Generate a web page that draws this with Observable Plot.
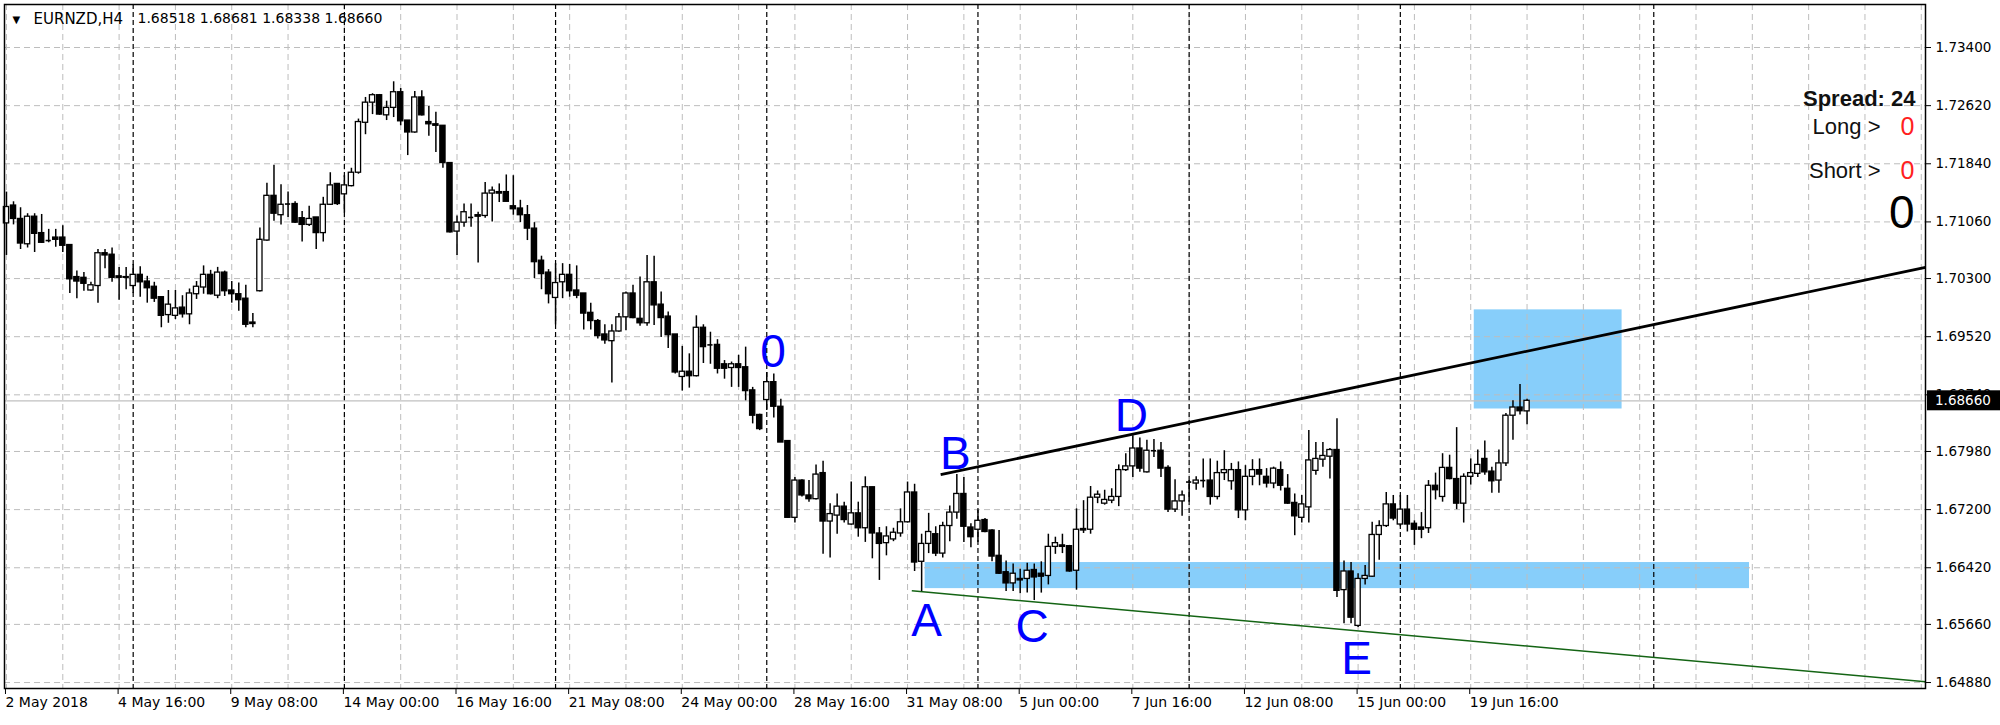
<!DOCTYPE html>
<html><head><meta charset="utf-8">
<script src="https://cdn.jsdelivr.net/npm/d3@7"></script>
<script src="https://cdn.jsdelivr.net/npm/@observablehq/plot@0.6"></script>
<style>
html,body{margin:0;padding:0;background:#fff;}
svg{display:block;}
</style></head><body><div id="chart"></div>
<script>
const symbol = "EURNZD,H4";

const open = [1.7104,1.7128,1.7110,1.7076,1.7113,1.7091,1.7081,1.7085,1.7085,1.7075,
1.7032,1.7031,1.7014,1.7020,1.7064,1.7062,1.7033,1.7032,1.7020,1.7035,
1.7026,1.7019,1.7005,1.6981,1.6980,1.6991,1.6982,1.7009,1.7018,1.7035,
1.7007,1.7038,1.7014,1.7009,1.7003,1.6971,1.7013,1.7081,1.7141,1.7115,
1.7130,1.7130,1.7111,1.7102,1.7112,1.7091,1.7129,1.7157,1.7143,1.7154,
1.7172,1.7239,1.7266,1.7276,1.7249,1.7259,1.7280,1.7242,1.7226,1.7273,
1.7240,1.7237,1.7235,1.7185,1.7093,1.7105,1.7112,1.7115,1.7114,1.7144,
1.7146,1.7146,1.7127,1.7124,1.7115,1.7097,1.7054,1.7038,1.7004,1.7025,
1.7035,1.7014,1.7010,1.6984,1.6973,1.6955,1.6946,1.6959,1.6978,1.7010,
1.6976,1.6970,1.7025,1.6995,1.6979,1.6955,1.6898,1.6905,1.6899,1.6964,
1.6941,1.6941,1.6915,1.6910,1.6915,1.6911,1.6880,1.6847,1.6867,1.6891,
1.6858,1.6812,1.6709,1.6759,1.6739,1.6734,1.6769,1.6704,1.6712,1.6724,
1.6700,1.6715,1.6695,1.6750,1.6688,1.6675,1.6680,1.6688,1.6703,1.6743,
1.6650,1.6674,1.6687,1.6661,1.6698,1.6716,1.6741,1.6696,1.6693,1.6706,
1.6692,1.6658,1.6636,1.6621,1.6627,1.6627,1.6639,1.6634,1.6631,1.6670,
1.6672,1.6671,1.6638,1.6694,1.6693,1.6736,1.6728,1.6732,1.6737,1.6773,
1.6778,1.6802,1.6770,1.6799,1.6799,1.6776,1.6720,1.6731,1.6757,1.6755,
1.6759,1.6759,1.6737,1.6769,1.6758,1.6773,1.6719,1.6764,1.6773,1.6764,
1.6755,1.6773,1.6748,1.6729,1.6709,1.6723,1.6772,1.6787,1.6791,1.6800,
1.6612,1.6637,1.6564,1.6627,1.6630,1.6686,1.6698,1.6727,1.6700,1.6720,
1.6701,1.6696,1.6695,1.6752,1.6737,1.6776,1.6761,1.6728,1.6764,1.6768,
1.6788,1.6771,1.6759,1.6782,1.6846,1.6857,1.68518];

const high = [1.7146,1.7133,1.7125,1.7117,1.7117,1.7116,1.7096,1.7096,1.7101,1.7075,
1.7040,1.7038,1.7025,1.7069,1.7069,1.7071,1.7045,1.7045,1.7049,1.7046,
1.7033,1.7025,1.7005,1.7014,1.7014,1.7007,1.7016,1.7026,1.7047,1.7041,
1.7045,1.7040,1.7026,1.7024,1.7021,1.6983,1.7098,1.7158,1.7182,1.7156,
1.7146,1.7133,1.7120,1.7127,1.7112,1.7139,1.7172,1.7157,1.7168,1.7178,
1.7244,1.7273,1.7278,1.7277,1.7268,1.7294,1.7285,1.7242,1.7281,1.7282,
1.7261,1.7253,1.7235,1.7185,1.7114,1.7130,1.7130,1.7119,1.7159,1.7153,
1.7157,1.7169,1.7168,1.7135,1.7128,1.7105,1.7060,1.7042,1.7050,1.7050,
1.7049,1.7047,1.7010,1.6997,1.6975,1.6968,1.6968,1.6983,1.7012,1.7021,
1.7032,1.7061,1.7060,1.7012,1.6985,1.6955,1.6939,1.6929,1.6980,1.6968,
1.6958,1.6948,1.6920,1.6918,1.6927,1.6938,1.6884,1.6848,1.6904,1.6902,
1.6868,1.6812,1.6763,1.6760,1.6759,1.6780,1.6785,1.6728,1.6741,1.6730,
1.6757,1.6730,1.6764,1.6750,1.6696,1.6697,1.6695,1.6721,1.6757,1.6754,
1.6687,1.6715,1.6697,1.6703,1.6725,1.6767,1.6763,1.6701,1.6719,1.6708,
1.6693,1.6692,1.6651,1.6647,1.6640,1.6648,1.6647,1.6650,1.6687,1.6683,
1.6687,1.6672,1.6721,1.6732,1.6751,1.6745,1.6746,1.6748,1.6780,1.6795,
1.6819,1.6816,1.6813,1.6814,1.6810,1.6779,1.6760,1.6745,1.6759,1.6764,
1.6788,1.6788,1.6785,1.6799,1.6782,1.6784,1.6779,1.6787,1.6788,1.6775,
1.6777,1.6784,1.6767,1.6741,1.6739,1.6826,1.6810,1.6810,1.6802,1.6842,
1.6651,1.6649,1.6634,1.6645,1.6703,1.6705,1.6743,1.6739,1.6739,1.6739,
1.6705,1.6716,1.6759,1.6769,1.6795,1.6793,1.6830,1.6768,1.6788,1.6800,
1.6812,1.6777,1.6800,1.6849,1.6866,1.6888,1.68681];

const low = [1.7061,1.7102,1.7069,1.7071,1.7065,1.7077,1.7078,1.7072,1.7065,1.7010,
1.7003,1.7013,1.7013,1.6997,1.7043,1.7025,1.7001,1.7015,1.7010,1.7005,
1.6997,1.6998,1.6964,1.6970,1.6975,1.6977,1.6968,1.7002,1.7009,1.7008,
1.7003,1.7006,1.6997,1.6986,1.6964,1.6964,1.7012,1.7080,1.7107,1.7102,
1.7112,1.7104,1.7079,1.7100,1.7069,1.7079,1.7128,1.7128,1.7118,1.7153,
1.7170,1.7223,1.7250,1.7249,1.7242,1.7246,1.7235,1.7195,1.7225,1.7248,
1.7221,1.7199,1.7178,1.7091,1.7061,1.7099,1.7099,1.7051,1.7111,1.7106,
1.7132,1.7133,1.7115,1.7105,1.7081,1.7030,1.7015,1.6996,1.6968,1.7003,
1.7005,1.7003,1.6961,1.6961,1.6949,1.6942,1.6890,1.6958,1.6960,1.6976,
1.6966,1.6966,1.6967,1.6951,1.6936,1.6902,1.6879,1.6883,1.6898,1.6916,
1.6915,1.6902,1.6895,1.6884,1.6884,1.6866,1.6835,1.6826,1.6853,1.6843,
1.6810,1.6708,1.6702,1.6737,1.6730,1.6733,1.6660,1.6655,1.6687,1.6702,
1.6699,1.6683,1.6676,1.6654,1.6625,1.6658,1.6677,1.6683,1.6702,1.6637,
1.6610,1.6661,1.6657,1.6655,1.6677,1.6707,1.6676,1.6669,1.6676,1.6689,
1.6650,1.6633,1.6610,1.6610,1.6607,1.6608,1.6598,1.6608,1.6619,1.6660,
1.6661,1.6636,1.6612,1.6688,1.6687,1.6728,1.6726,1.6728,1.6724,1.6771,
1.6763,1.6770,1.6769,1.6790,1.6763,1.6716,1.6716,1.6711,1.6730,1.6746,
1.6749,1.6726,1.6733,1.6759,1.6746,1.6708,1.6705,1.6752,1.6752,1.6749,
1.6748,1.6745,1.6727,1.6685,1.6702,1.6702,1.6766,1.6777,1.6761,1.6602,
1.6567,1.6567,1.6562,1.6619,1.6629,1.6652,1.6696,1.6705,1.6697,1.6690,
1.6672,1.6681,1.6688,1.6733,1.6730,1.6760,1.6720,1.6702,1.6753,1.6763,
1.6766,1.6742,1.6742,1.6778,1.6813,1.6847,1.68338];

const close = [1.7126,1.7110,1.7077,1.7113,1.7090,1.7078,1.7081,1.7082,1.7074,1.7029,
1.7026,1.7023,1.7021,1.7064,1.7061,1.7031,1.7031,1.7031,1.7035,1.7025,
1.7017,1.7003,1.6980,1.6995,1.6990,1.6982,1.7010,1.7019,1.7035,1.7009,
1.7038,1.7013,1.7009,1.7001,1.6968,1.6969,1.7082,1.7141,1.7117,1.7129,
1.7130,1.7105,1.7102,1.7110,1.7091,1.7129,1.7155,1.7130,1.7155,1.7172,
1.7240,1.7266,1.7276,1.7250,1.7259,1.7280,1.7241,1.7226,1.7273,1.7249,
1.7237,1.7235,1.7185,1.7092,1.7105,1.7119,1.7112,1.7113,1.7144,1.7148,
1.7144,1.7133,1.7123,1.7115,1.7097,1.7052,1.7036,1.7009,1.7024,1.7035,
1.7013,1.7007,1.6983,1.6973,1.6953,1.6947,1.6959,1.6978,1.7010,1.6977,
1.6970,1.7025,1.6994,1.6977,1.6954,1.6904,1.6905,1.6899,1.6964,1.6938,
1.6941,1.6909,1.6909,1.6915,1.6910,1.6879,1.6846,1.6828,1.6891,1.6858,
1.6810,1.6709,1.6759,1.6739,1.6734,1.6767,1.6704,1.6714,1.6724,1.6706,
1.6715,1.6695,1.6750,1.6688,1.6674,1.6684,1.6689,1.6703,1.6743,1.6649,
1.6674,1.6690,1.6661,1.6698,1.6716,1.6741,1.6697,1.6683,1.6705,1.6690,
1.6657,1.6634,1.6621,1.6634,1.6625,1.6638,1.6629,1.6630,1.6670,1.6675,
1.6670,1.6637,1.6693,1.6692,1.6736,1.6740,1.6733,1.6737,1.6773,1.6778,
1.6802,1.6775,1.6799,1.6799,1.6775,1.6720,1.6731,1.6739,1.6757,1.6759,
1.6759,1.6737,1.6769,1.6773,1.6773,1.6719,1.6764,1.6773,1.6767,1.6755,
1.6775,1.6752,1.6728,1.6711,1.6727,1.6786,1.6788,1.6792,1.6800,1.6611,
1.6637,1.6575,1.6627,1.6631,1.6686,1.6698,1.6727,1.6708,1.6720,1.6700,
1.6693,1.6693,1.6752,1.6746,1.6776,1.6761,1.6728,1.6764,1.6769,1.6780,
1.6770,1.6758,1.6782,1.6846,1.6857,1.6852,1.68660];

// time axis: bar index of each label, and its text
const timeTickBars = [0,16,32,48,64,80,96,112,128,144,160,176,192,208];
const timeTickLabels = ["2 May 2018","4 May 16:00","9 May 08:00","14 May 00:00","16 May 16:00","21 May 08:00","24 May 00:00","28 May 16:00","31 May 08:00","5 Jun 00:00","7 Jun 16:00","12 Jun 08:00","15 Jun 00:00","19 Jun 16:00"];
const priceTicks = [1.73400,1.72620,1.71840,1.71060,1.70300,1.69520,1.68740,1.67980,1.67200,1.66420,1.65660,1.64880];
const weekSeparatorBars = [18,48,78,108,138,168,198,234];
const gridBars = [0,8,16,24,32,40,48,56,64,72,80,88,96,104,112,120,128,136,144,152,160,168,176,184,192,200,208,216,224,232,240,248,256,264,272];

const lastPrice = 1.68660;
const spread = 24, longCount = 0, shortCount = 0, totalCount = 0;

// wave labels
const waveNames = ["0","A","B","C","D","E"];
const waveBars = [108.9,130.7,134.8,145.7,159.8,191.8];
const wavePrices = [1.6911,1.6551,1.6774,1.6543,1.6826,1.6500];

// blue zones
const zoneStartBar = [130.5,208.5];
const zoneEndBar = [247.6,229.5];
const zoneTop = [1.6649,1.6988];
const zoneBottom = [1.6614,1.6855];

// trend lines
const trendStartBar = [132.7,128.6];
const trendStartPrice = [1.6767,1.6611];
const trendEndBar = [272.6,272.6];
const trendEndPrice = [1.7045,1.6489];
const trendColors = ["#000000","#146414"];
const trendWidths = [2.8,1.5];

// ---------- build ----------
const bars = open.map((o, i) => ({i, o, h: high[i], l: low[i], c: close[i]}));
const dojis = bars.filter(d => d.o === d.c);
const waves = waveNames.map((t, k) => ({t, b: waveBars[k], p: wavePrices[k]}));
const zones = zoneStartBar.map((b, k) => ({b1: b, b2: zoneEndBar[k], y1: zoneTop[k], y2: zoneBottom[k]}));
const trends = trendStartBar.map((b, k) => ({b1: b, p1: trendStartPrice[k], b2: trendEndBar[k], p2: trendEndPrice[k], col: trendColors[k], w: trendWidths[k]}));
const labelMap = new Map(timeTickBars.map((b, k) => [b, timeTickLabels[k]]));
const fmt5 = d3.format(".5f");
const last = bars[bars.length - 1];
const headerValues = [last.o, last.h, last.l, last.c].map(fmt5).join(" ");

const chart = Plot.plot({
  width: 2000, height: 725,
  marginLeft: 4, marginRight: 75, marginTop: 4, marginBottom: 37,
  x: {domain: [-0.28, 272.6], axis: null},
  y: {domain: [1.64800, 1.73977], axis: null},
  color: {type: "identity"},
  style: {background: "white", fontFamily: "DejaVu Sans", fontSize: "13.5px", color: "black"},
  marks: [
    Plot.rect(zones, {x1: "b1", x2: "b2", y1: "y1", y2: "y2", fill: "#87cefa"}),
    Plot.ruleY(priceTicks, {stroke: "#bdbdbd", strokeDasharray: "6,4"}),
    Plot.ruleX(gridBars, {stroke: "#bdbdbd", strokeDasharray: "6,4"}),
    Plot.ruleX(weekSeparatorBars, {stroke: "black", strokeDasharray: "5,3", strokeWidth: 1.2}),
    Plot.ruleY([lastPrice], {stroke: "#c0c0c0", strokeWidth: 1.2}),
    ...trends.map(t => Plot.link([t], {x1: "b1", y1: "p1", x2: "b2", y2: "p2", stroke: t.col, strokeWidth: t.w})),
    Plot.ruleX(bars, {x: "i", y1: "l", y2: "h", stroke: "black", strokeWidth: 1.5}),
    Plot.rect(bars, {x1: d => d.i - 0.37, x2: d => d.i + 0.37, y1: "o", y2: "c",
      fill: d => d.c >= d.o ? "white" : "black", stroke: "black", strokeWidth: 1.3}),
    Plot.ruleY(dojis, {y: "c", x1: d => d.i - 0.37, x2: d => d.i + 0.37, stroke: "black", strokeWidth: 1.6}),
    Plot.text(waves, {x: "b", y: "p", text: "t", fill: "#0000ff", fontSize: 46,
      fontFamily: "Liberation Sans", textAnchor: "middle", lineAnchor: "bottom"}),
    // header
    Plot.text(["\u25BC"], {frameAnchor: "top-left", dx: 8, dy: 11, fontSize: 10, textAnchor: "start", lineAnchor: "top", fill: "black"}),
    Plot.text([symbol], {frameAnchor: "top-left", dx: 29, dy: 9, fontSize: 15, textAnchor: "start", lineAnchor: "top", fill: "black"}),
    Plot.text([headerValues], {frameAnchor: "top-left", dx: 133, dy: 9, fontSize: 14, textAnchor: "start", lineAnchor: "top", fill: "black"}),
    // info panel
    Plot.text([`Spread: ${spread}`], {frameAnchor: "top-right", dx: -10, dy: 101, fontSize: 22, fontWeight: "bold",
      fontFamily: "Liberation Sans", textAnchor: "end", lineAnchor: "bottom", fill: "#111"}),
    Plot.text(["Long >"], {frameAnchor: "top-right", dx: -45, dy: 129, fontSize: 22,
      fontFamily: "Liberation Sans", textAnchor: "end", lineAnchor: "bottom", fill: "#111"}),
    Plot.text([String(longCount)], {frameAnchor: "top-right", dx: -11, dy: 130, fontSize: 25,
      fontFamily: "Liberation Sans", textAnchor: "end", lineAnchor: "bottom", fill: "#ff2020"}),
    Plot.text(["Short >"], {frameAnchor: "top-right", dx: -45, dy: 173, fontSize: 22,
      fontFamily: "Liberation Sans", textAnchor: "end", lineAnchor: "bottom", fill: "#111"}),
    Plot.text([String(shortCount)], {frameAnchor: "top-right", dx: -11, dy: 174, fontSize: 25,
      fontFamily: "Liberation Sans", textAnchor: "end", lineAnchor: "bottom", fill: "#ff2020"}),
    Plot.text([String(totalCount)], {frameAnchor: "top-right", dx: -11, dy: 223, fontSize: 46,
      fontFamily: "Liberation Sans", textAnchor: "end", lineAnchor: "bottom", fill: "black"}),
    Plot.frame({stroke: "black", strokeWidth: 1.5}),
    Plot.axisY(priceTicks, {anchor: "right", tickFormat: fmt5, tickSize: 5, tickPadding: 5, fontSize: 13.5, fill: "black", stroke: "black"}),
    Plot.axisX(timeTickBars, {anchor: "bottom", tickFormat: d => labelMap.get(d), textAnchor: "start",
      tickSize: 6, tickPadding: 3, fontSize: 14, fill: "black", stroke: "black", dx: -1})
  ]
});
document.getElementById("chart").appendChild(chart);

// current price marker on the price axis
const svg = d3.select(chart);
const yPx = chart.scale("y").apply(lastPrice);
const xRight = chart.scale("x").range[1];
svg.append("rect").attr("x", xRight + 2).attr("y", yPx - 10).attr("width", 2000 - xRight - 2).attr("height", 20).attr("fill", "black");
svg.append("text").attr("x", xRight + 10).attr("y", yPx).attr("dy", "0.35em").attr("text-anchor", "start")
  .attr("fill", "white").attr("font-family", "DejaVu Sans").attr("font-size", 13.5).text(fmt5(lastPrice));
</script>
</body></html>
